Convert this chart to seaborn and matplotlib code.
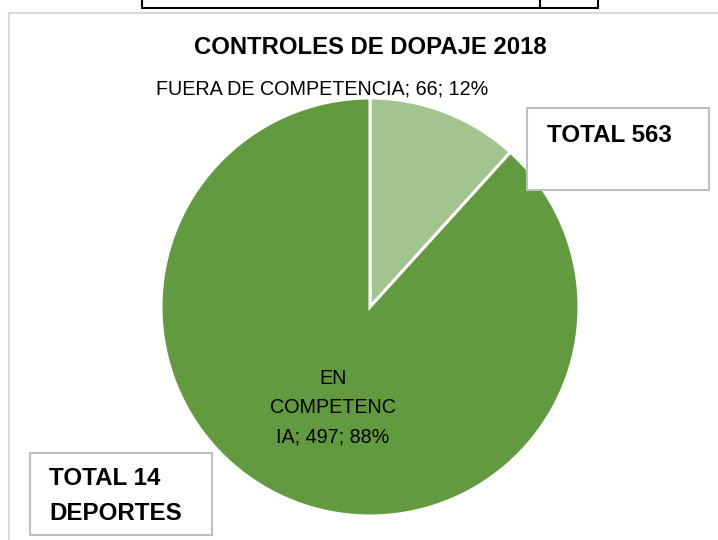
import matplotlib
matplotlib.use("Agg")
import matplotlib.pyplot as plt
import seaborn as sns
from matplotlib.patches import Rectangle
from matplotlib.lines import Line2D

# data
categories = ["FUERA DE COMPETENCIA", "EN COMPETENCIA"]
values = [66, 497]
percents = [12, 88]
colors = ["#a3c48f", "#629a3f"]
title = "CONTROLES DE DOPAJE 2018"
total_text = "TOTAL 563"
sports_text = "TOTAL 14\nDEPORTES"

sns.set_theme(style="white")
plt.rcParams["font.family"] = ["Liberation Sans", "DejaVu Sans"]
plt.rcParams["text.color"] = "black"

W, H = 718, 540
fig = plt.figure(figsize=(W / 100, H / 100), dpi=100)
fig.patch.set_facecolor("white")


def fx(px):
    return px / W


def fy(py):
    return 1 - py / H


# chart frame (light grey) and table fragment above it
fig.add_artist(Rectangle((fx(9), fy(560)), fx(760), 560 / H - 13 / H, transform=fig.transFigure,
                         fill=False, edgecolor="#d9d9d9", linewidth=1.5))
for xs, ys in [([142, 598], [8, 8]), ([142, 142], [-2, 8]), ([540, 540], [-2, 8]), ([598, 598], [-2, 8])]:
    fig.add_artist(Line2D([fx(x) for x in xs], [fy(y) for y in ys], transform=fig.transFigure,
                          color="black", linewidth=1.5))

# pie
cx, cy, r = 370, 307, 209
ax = fig.add_axes([fx(cx - r), (H - cy - r) / H, 2 * r / W, 2 * r / H])
ax.pie(values, colors=colors, startangle=90, counterclock=False,
       wedgeprops=dict(edgecolor="white", linewidth=2.2))
ax.set_xlim(-1, 1)
ax.set_ylim(-1, 1)
ax.set_aspect("auto")
ax.axis("off")

ax.text(-0.23, 1.045, f"{categories[0]}; {values[0]}; {percents[0]}%", ha="center", va="center",
        fontsize=14.2, color="black", clip_on=False)
ax.text(-0.178, -0.48, f"EN\nCOMPETENC\nIA; {values[1]}; {percents[1]}%", ha="center", va="center",
        fontsize=14.2, color="black", linespacing=1.68)

fig.text(fx(370), fy(47), title, ha="center", va="center", fontsize=17.2, fontweight="bold", color="black")

# text boxes
for (x0, y0, x1, y1), txt, tx, ty in [((527, 108, 709, 190), total_text, 547, 135),
                                      ((30, 453, 212, 535), sports_text, 49, 496)]:
    fig.add_artist(Rectangle((fx(x0), fy(y1)), fx(x1 - x0), (y1 - y0) / H, transform=fig.transFigure,
                             facecolor="white", edgecolor="#bfbfbf", linewidth=1.5))
    fig.text(fx(tx), fy(ty), txt, ha="left", va="center", fontsize=17.4, fontweight="bold",
             linespacing=1.62, color="black")

fig.savefig("out.png", dpi=100, facecolor="white")
